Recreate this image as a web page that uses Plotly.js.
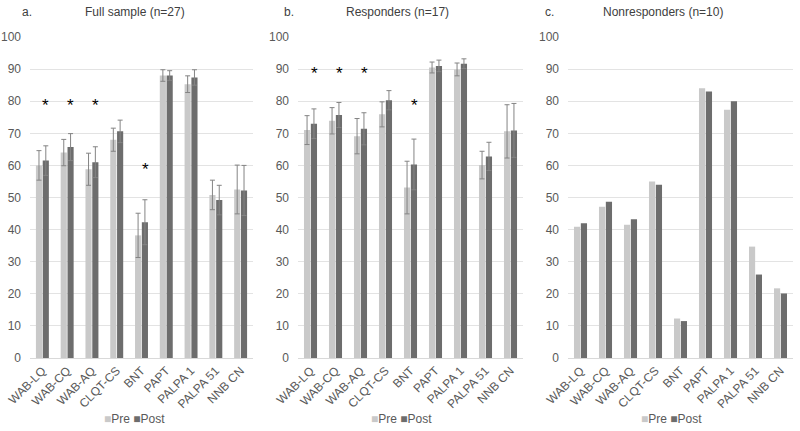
<!DOCTYPE html>
<html>
<head>
<meta charset="utf-8">
<script src="https://cdn.plot.ly/plotly-3.0.1.min.js"></script>
<style>html,body{margin:0;padding:0;background:#fff;}#chart{width:800px;height:431px;}</style>
</head>
<body>
<div id="chart"></div>
<script>
const categories = ["WAB-LQ","WAB-CQ","WAB-AQ","CLQT-CS","BNT","PAPT","PALPA 1","PALPA 51","NNB CN"];
const seriesNames = ["Pre","Post"];
const panelLetters = ["a.","b.","c."];
const panelTitles = ["Full sample (n=27)","Responders (n=17)","Nonresponders (n=10)"];

// a. Full sample
const fullPre      = [60.0, 64.0, 58.8, 68.0, 38.2, 88.0, 85.3, 50.8, 52.5];
const fullPost     = [61.5, 65.7, 61.0, 70.6, 42.3, 88.0, 87.4, 49.2, 52.2];
const fullPreErr   = [4.6, 4.1, 5.0, 3.6, 6.9, 1.8, 2.6, 4.6, 7.6];
const fullPostErr  = [4.6, 4.2, 4.8, 3.5, 7.0, 1.5, 2.4, 4.6, 7.8];
// b. Responders
const respPre      = [71.0, 73.9, 69.1, 75.9, 53.1, 90.5, 89.9, 60.1, 70.6];
const respPost     = [73.0, 75.7, 71.4, 80.3, 60.3, 91.0, 91.7, 62.8, 70.9];
const respPreErr   = [4.5, 4.1, 5.5, 3.9, 8.2, 1.7, 2.0, 4.3, 8.3];
const respPostErr  = [4.6, 3.9, 5.0, 3.0, 7.9, 1.8, 1.5, 4.4, 8.4];
// c. Nonresponders
const nonPre       = [40.9, 47.1, 41.5, 55.0, 12.3, 84.0, 77.3, 34.7, 21.7];
const nonPost      = [42.0, 48.7, 43.2, 54.0, 11.5, 83.0, 80.0, 26.0, 20.1];

// significance markers: category and y level
const sigFullCats = ["WAB-LQ","WAB-CQ","WAB-AQ","BNT"];
const sigFullY    = [80, 80, 80, 60];
const sigRespCats = ["WAB-LQ","WAB-CQ","WAB-AQ","BNT"];
const sigRespY    = [90, 90, 90, 80];

const preColor = "#c9c9c9";
const postColor = "#6d6d6d";
const errColor = "#848484";
const fontFam = "Liberation Sans, Arial, sans-serif";

function bar(name, y, err, color, ax) {
  const t = {
    type: "bar", name: name, x: categories, y: y,
    xaxis: "x" + (ax === 1 ? "" : ax), yaxis: "y" + (ax === 1 ? "" : ax),
    marker: {color: color, line: {color: color, width: 0}},
    showlegend: false, hoverinfo: "x+y+name"
  };
  if (err) t.error_y = {type: "data", array: err, visible: true, color: errColor, thickness: 1, width: 2.5};
  return t;
}

const data = [
  bar(seriesNames[0], fullPre, fullPreErr, preColor, 1),
  bar(seriesNames[1], fullPost, fullPostErr, postColor, 1),
  bar(seriesNames[0], respPre, respPreErr, preColor, 2),
  bar(seriesNames[1], respPost, respPostErr, postColor, 2),
  bar(seriesNames[0], nonPre, null, preColor, 3),
  bar(seriesNames[1], nonPost, null, postColor, 3)
];

// pixel helpers (plot area: l=30, r=7, t=37, b=73)
const L = 30, W = 763, T = 37, H = 321;
const px = x => (x - L) / W;
const py = y => (T + H - y) / H;

const domains = [[px(30), px(253)], [px(298), px(523)], [px(568), px(793)]];

function xaxis(i) {
  return {
    domain: domains[i], type: "category", anchor: "y" + (i === 0 ? "" : i + 1),
    tickangle: -45, tickfont: {family: fontFam, size: 12, color: "#595959"},
    showline: true, linecolor: "#d9d9d9", linewidth: 1, ticks: "", showgrid: false,
    fixedrange: true
  };
}
function yaxis(i) {
  return {
    domain: [0, 1], range: [0, 100], dtick: 10, anchor: "x" + (i === 0 ? "" : i + 1),
    showgrid: true, gridcolor: "#e3e3e3", gridwidth: 1, zeroline: false,
    showline: false, ticks: "", ticklabelstandoff: 8,
    tickfont: {family: fontFam, size: 12, color: "#595959"}, fixedrange: true
  };
}

const annotations = [];
const letterX = [20, 282, 543];
const titleX = [135, 397, 663];
const legendX = [134, 401, 671];
for (let i = 0; i < 3; i++) {
  annotations.push({xref: "paper", yref: "paper", x: px(letterX[i]), y: py(12), xanchor: "left", yanchor: "middle",
    text: panelLetters[i], showarrow: false, font: {family: fontFam, size: 12, color: "#404040"}});
  annotations.push({xref: "paper", yref: "paper", x: px(titleX[i]), y: py(12), xanchor: "center", yanchor: "middle",
    text: panelTitles[i], showarrow: false, font: {family: fontFam, size: 12, color: "#404040"}});
  annotations.push({xref: "paper", yref: "paper", x: px(legendX[i]), y: py(419), xanchor: "center", yanchor: "middle",
    text: '<span style="color:' + preColor + '">■</span>' + seriesNames[0] + ' <span style="color:' + postColor + '">■</span>' + seriesNames[1],
    showarrow: false, font: {family: fontFam, size: 12, color: "#595959"}});
}
function addSig(cats, ys, ax) {
  cats.forEach((c, k) => annotations.push({
    xref: "x" + (ax === 1 ? "" : ax), yref: "y" + (ax === 1 ? "" : ax), x: c, y: ys[k],
    xshift: 3.5, yshift: -4, text: "*", showarrow: false,
    font: {family: fontFam, size: 17, color: "#000"}
  }));
}
addSig(sigFullCats, sigFullY, 1);
addSig(sigRespCats, sigRespY, 2);

const layout = {
  width: 800, height: 431,
  margin: {l: L, r: 7, t: T, b: 73, pad: 0},
  paper_bgcolor: "#fff", plot_bgcolor: "#fff",
  barmode: "group", bargap: 0.45, bargroupgap: 0.1,
  showlegend: false,
  xaxis: xaxis(0), xaxis2: xaxis(1), xaxis3: xaxis(2),
  yaxis: yaxis(0), yaxis2: yaxis(1), yaxis3: yaxis(2),
  annotations: annotations,
  font: {family: fontFam}
};

Plotly.newPlot("chart", data, layout, {displayModeBar: false, staticPlot: true});
</script>
</body>
</html>
